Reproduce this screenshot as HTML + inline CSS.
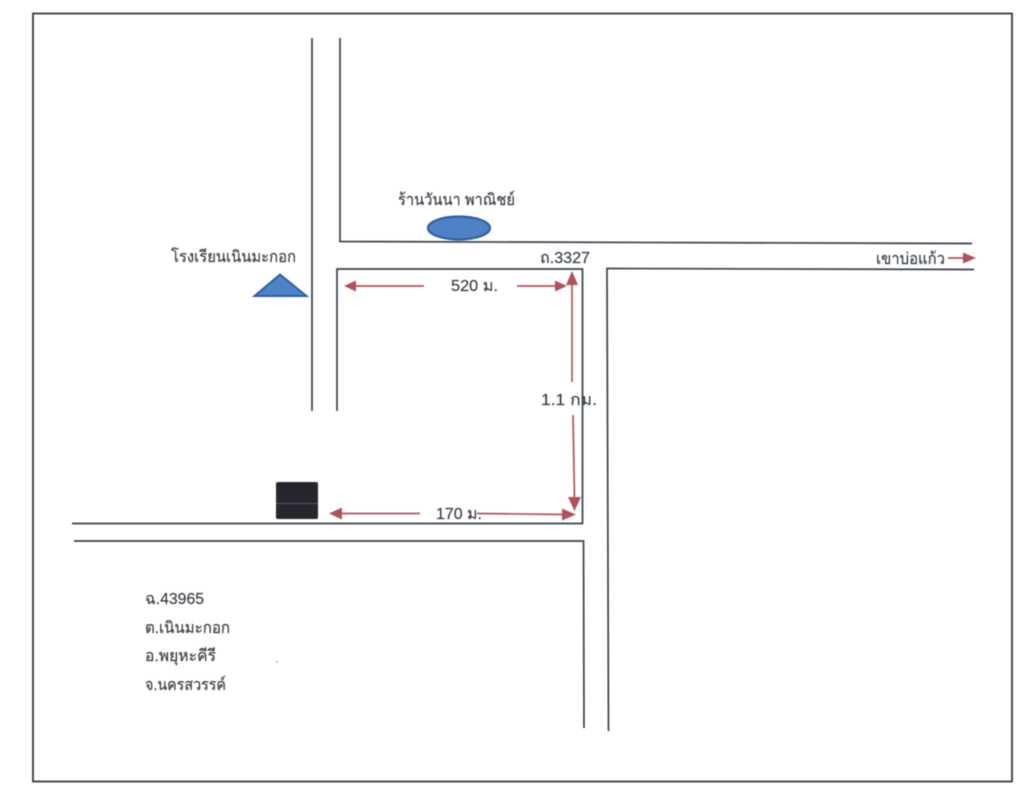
<!DOCTYPE html>
<html>
<head>
<meta charset="utf-8">
<style>
html,body{margin:0;padding:0;background:#fff;width:1032px;height:800px;overflow:hidden}
svg{display:block;filter:blur(.4px)}
text{font-family:"Liberation Sans","Noto Sans CJK SC",sans-serif;font-size:16px;fill:#33383f;stroke:#33383f;stroke-width:.15px}
</style>
</head>
<body>
<svg width="1032" height="800" viewBox="0 0 1032 800" xmlns="http://www.w3.org/2000/svg">
<rect width="1032" height="800" fill="#fff"/>
<rect x="33" y="13.500" width="979" height="768" fill="none" stroke="#343a42" stroke-width="1.800"/>
<g fill="none" stroke="#39404c" stroke-width="1.700">
<path d="M312 38V411"/>
<path d="M340 38V241.500L972 243.500"/>
<path d="M337 411V269H582.500V523.500H72"/>
<path d="M74 541H583.500L584 728"/>
<path d="M608.500 731L607 268.500L974 269.500"/>
</g>
<ellipse cx="459" cy="228" rx="31" ry="11.500" fill="#4f81c7" stroke="#2f5f9c" stroke-width="2.200"/>
<path d="M254.500 296L280 274.500L306.500 296Z" fill="#4f81c7" stroke="#2f5f9c" stroke-width="2"/>
<rect x="276" y="482" width="42" height="37" rx="2" fill="#26262e"/>
<path d="M276 503.500H318" stroke="#6a6a72" stroke-width=".7"/>
<g fill="none" stroke="#b0525a" stroke-width="1.700">
<path d="M354 286H424"/>
<path d="M517 286H556"/>
<path d="M572 284V382"/>
<path d="M573 415L574.500 500"/>
<path d="M342 513.500H420"/>
<path d="M477 513.500L566 514.500"/>
<path d="M948 258H965"/>
</g>
<g fill="#b0525a">
<path d="M344 286L356 280.500V291.500Z"/>
<path d="M567 286L555 280.500V291.500Z"/>
<path d="M572 271L566 285H578Z"/>
<path d="M574.500 511L568 497H581Z"/>
<path d="M329 513.500L342 507.500V519.500Z"/>
<path d="M576 514.500L562 508.500V520.500Z"/>
<path d="M976 258L963 252.500V263.500Z"/>
</g>
<text x="398" y="205" textLength="117" lengthAdjust="spacingAndGlyphs">ร้านวันนา พาณิชย์</text>
<text x="171" y="262" textLength="125" lengthAdjust="spacingAndGlyphs">โรงเรียนเนินมะกอก</text>
<text x="540" y="263" textLength="50" lengthAdjust="spacingAndGlyphs">ถ.3327</text>
<text x="451" y="291" textLength="47" lengthAdjust="spacingAndGlyphs">520 ม.</text>
<text x="541" y="405" textLength="56" lengthAdjust="spacingAndGlyphs">1.1 กม.</text>
<text x="436" y="519" textLength="46" lengthAdjust="spacingAndGlyphs">170 ม.</text>
<text x="876" y="264" textLength="69" lengthAdjust="spacingAndGlyphs">เขาบ่อแก้ว</text>
<text x="145" y="604" textLength="59" lengthAdjust="spacingAndGlyphs">ฉ.43965</text>
<text x="145" y="633" textLength="85" lengthAdjust="spacingAndGlyphs">ต.เนินมะกอก</text>
<text x="145" y="661" textLength="71" lengthAdjust="spacingAndGlyphs">อ.พยุหะคีรี</text>
<text x="145" y="690" textLength="81" lengthAdjust="spacingAndGlyphs">จ.นครสวรรค์</text>
<circle cx="277" cy="662" r=".8" fill="#777"/>
</svg>
</body>
</html>
